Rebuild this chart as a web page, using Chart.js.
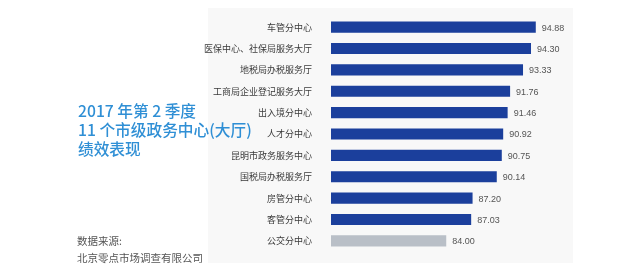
<!DOCTYPE html>
<html>
<head>
<meta charset="utf-8">
<script src="https://cdn.jsdelivr.net/npm/chart.js@4/dist/chart.umd.min.js"></script>
<style>
  body { margin: 0; background: #fff; }
  #wrap { position: relative; width: 640px; height: 268px; }
  #panel { position: absolute; left: 208px; top: 8px; width: 365px; height: 255px; background: #f8f8f8; }
  canvas { position: absolute; left: 0; top: 0; }
  .title { position: absolute; left: 78px; top: 101px; color: #2f8fd5; font: 500 15.7px/19px "Noto Sans CJK SC", sans-serif; }
  .source { position: absolute; left: 77px; top: 232px; color: #555; font: 10.5px/17px "Noto Sans CJK SC", sans-serif; }
</style>
</head>
<body>
<div id="wrap">
  <div id="panel"></div>
  <canvas id="chart" width="640" height="268"></canvas>
  <div class="title">2017 年第 2 季度<br>11 个市级政务中心(大厅)<br>绩效表现</div>
  <div class="source">数据来源:<br>北京零点市场调查有限公司</div>
</div>
<script>
let centers = ['车管分中心', '医保中心、社保局服务大厅', '地税局办税服务厅', '工商局企业登记服务大厅', '出入境分中心',
  '人才分中心', '昆明市政务服务中心', '国税局办税服务厅', '房管分中心', '客管分中心', '公交分中心'];
let scores = [94.88, 94.30, 93.33, 91.76, 91.46, 90.92, 90.75, 90.14, 87.20, 87.03, 84.00];

let barColors = centers.map((c, i) => i === centers.length - 1 ? '#b9bfc7' : '#1b3f9c');

const valueLabels = {
  id: 'valueLabels',
  afterDatasetsDraw(chart) {
    let ctx = chart.ctx;
    let meta = chart.getDatasetMeta(0);
    ctx.save();
    ctx.font = '9px "Liberation Sans", Arial, sans-serif';
    ctx.fillStyle = '#555';
    ctx.textBaseline = 'middle';
    meta.data.forEach((bar, i) => {
      ctx.fillText(scores[i].toFixed(2), bar.x + 6, bar.y + 1);
    });
    ctx.restore();
  }
};

new Chart(document.getElementById('chart'), {
  type: 'bar',
  data: {
    labels: centers,
    datasets: [{
      data: scores,
      backgroundColor: barColors,
      barPercentage: 0.52,
      categoryPercentage: 1
    }]
  },
  options: {
    indexAxis: 'y',
    responsive: false,
    animation: false,
    layout: { padding: { top: 8, bottom: 3, right: 95 } },
    plugins: { legend: { display: false }, tooltip: { enabled: false } },
    scales: {
      x: { display: false, min: 70, max: 96 },
      y: {
        grid: { display: false },
        border: { display: false },
        afterFit(scale) { scale.width = 331; },
        ticks: {
          padding: 11,
          color: '#3a3a3a',
          font: { size: 9, family: '"Noto Sans CJK SC", sans-serif' }
        }
      }
    }
  },
  plugins: [valueLabels]
});
</script>
</body>
</html>
